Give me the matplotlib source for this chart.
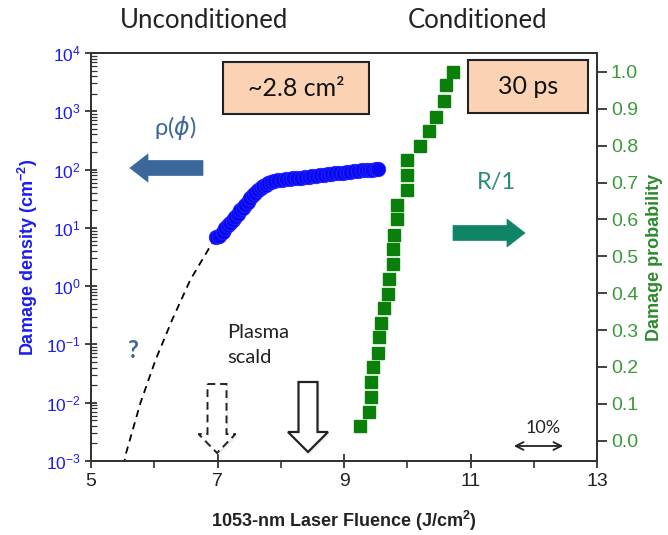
import matplotlib
matplotlib.use("Agg")
import matplotlib.pyplot as plt
from matplotlib.patches import Polygon, Rectangle
from matplotlib.ticker import FixedLocator, MultipleLocator, LogLocator, NullFormatter

plt.rcParams['font.family'] = ['Liberation Sans', 'DejaVu Sans']
plt.rcParams['mathtext.fontset'] = 'custom'
plt.rcParams['mathtext.rm'] = 'Liberation Sans'
plt.rcParams['mathtext.it'] = 'Liberation Sans:italic'
plt.rcParams['mathtext.bf'] = 'Liberation Sans:bold'

# unconditioned damage density (blue circles)
fluence_u = [6.98, 7.03, 7.08, 7.12, 7.16, 7.20, 7.24, 7.28, 7.32, 7.36, 7.40,
             7.44, 7.48, 7.52, 7.56, 7.60, 7.64, 7.68, 7.72, 7.76, 7.80, 7.85,
             7.90, 7.96, 8.02, 8.08, 8.14, 8.20, 8.26, 8.32, 8.38, 8.44, 8.50,
             8.56, 8.62, 8.68, 8.74, 8.80, 8.86, 8.92, 8.98, 9.04, 9.10, 9.16,
             9.22, 9.28, 9.34, 9.40, 9.45, 9.50, 9.54]
density_u = [7.0, 7.2, 8.5, 9.8, 11.0, 12.2, 13.5, 15.5, 17.5, 20, 22,
             25, 28, 32, 36, 40, 44, 48, 52, 55, 58, 61,
             63, 65, 67, 68, 70, 71, 72, 73, 75, 76, 78,
             79, 81, 82, 84, 85, 87, 88, 89, 91, 92, 94,
             95, 97, 98, 99, 100, 101, 102]

# extrapolation (dashed)
fluence_fit = [5.50, 5.54, 5.78, 6.02, 6.28, 6.57, 6.97, 7.25, 7.56]
density_fit = [5e-4, 1.2e-3, 9.8e-3, 5.4e-2, 0.26, 1.28, 6.9, 13.2, 27.5]

# conditioned damage probability (green squares)
fluence_c = [9.25, 9.39, 9.43, 9.43, 9.46, 9.54, 9.56, 9.59, 9.63, 9.69, 9.71,
             9.78, 9.78, 9.79, 9.84, 9.84, 9.99, 10.0, 10.0, 10.20, 10.34,
             10.45, 10.58, 10.61, 10.73]
prob_c = [0.039, 0.078, 0.118, 0.159, 0.199, 0.239, 0.281, 0.319, 0.36, 0.398,
          0.438, 0.48, 0.52, 0.558, 0.60, 0.64, 0.68, 0.721, 0.762, 0.80, 0.84,
          0.879, 0.922, 0.965, 1.0]

x_major = [5, 7, 9, 11, 13]
x_minor = [6, 8, 10, 12]

W, H = 668, 535


def fx(px):
    return px / W


def fy(py):
    return 1 - py / H


def pix(pts):
    return [(fx(a), fy(b)) for a, b in pts]


fig = plt.figure(figsize=(W / 100, H / 100), dpi=100)
ax = fig.add_axes([fx(91), fy(461), (597 - 91) / W, (461 - 53) / H])

blue = '#1c1cf0'
green_tk = '#3a9a3a'
steel = '#3b679b'
teal = '#108466'
spine_c = '#333333'

ax.plot(fluence_fit, density_fit, ls=(0, (4, 3)), color='black', lw=1.3, zorder=3)
ax.plot(fluence_u, density_u, 'o', ms=10.5, color='#0808f2', mec='#2a2aff', mew=0.5, zorder=4)

ax.set_yscale('log')
ax.set_ylim(1e-3, 1e4)
ax.set_xlim(5, 13)
ax.xaxis.set_major_locator(FixedLocator(x_major))
ax.xaxis.set_minor_locator(FixedLocator(x_minor))
ax.yaxis.set_major_locator(LogLocator(base=10, numticks=10))
ax.yaxis.set_minor_locator(LogLocator(base=10, subs=range(2, 10), numticks=100))
ax.yaxis.set_minor_formatter(NullFormatter())

ax.tick_params(axis='y', which='major', direction='inout', length=8, width=1.3,
               colors=spine_c, labelcolor=blue, labelsize=12.5)
ax.tick_params(axis='y', which='minor', direction='in', length=4, width=0.9, colors=spine_c)
ax.tick_params(axis='x', which='major', direction='inout', length=10, width=1.3,
               colors=spine_c, labelcolor='#222222', labelsize=14, pad=4)
ax.tick_params(axis='x', which='minor', direction='out', length=5, width=1.2, colors=spine_c)

for s in ax.spines.values():
    s.set_color(spine_c)
    s.set_linewidth(1.4)

ax.set_ylabel(r'Damage density (cm$^{\mathbf{-2}}$)', color=blue, fontweight='bold',
              fontsize=13, labelpad=4)
ax.set_xlabel(r'1053-nm Laser Fluence (J/cm$^{\mathbf{2}}$)', color='#222222',
              fontweight='bold', fontsize=13, labelpad=13)

ax2 = ax.twinx()
ax2.plot(fluence_c, prob_c, 's', ms=8, color='#0a800a', zorder=4)
ax2.set_ylim(-0.055, 1.0515)
ax2.yaxis.set_major_locator(MultipleLocator(0.1))
ax2.yaxis.set_major_formatter(plt.FuncFormatter(lambda v, p: f'{v:.1f}'))
ax2.tick_params(axis='y', direction='out', length=7, width=1.3, colors=spine_c,
                labelcolor=green_tk, labelsize=14, pad=3)
for s in ax2.spines.values():
    s.set_color(spine_c)
    s.set_linewidth(1.4)
ax2.set_ylabel('Damage probability', color='#2d8a2d', fontweight='bold',
               fontsize=13, labelpad=6)

# annotation font
afont = ['Lato', 'DejaVu Sans']

fig.text(fx(204), fy(20), 'Unconditioned', family=afont, fontsize=18.5,
         color='#222222', ha='center', va='center')
fig.text(fx(478), fy(20), 'Conditioned', family=afont, fontsize=18.5,
         color='#222222', ha='center', va='center')

# boxes
for (x0, y0, x1, y1), label in [((223, 62, 369, 114), '~2.8 cm²'),
                                ((468, 60, 588, 113), '30 ps')]:
    fig.patches.append(Rectangle((fx(x0), fy(y1)), (x1 - x0) / W, (y1 - y0) / H,
                                 transform=fig.transFigure, facecolor='#fbd3b4',
                                 edgecolor='#222222', lw=1.5, zorder=5))
    fig.text(fx((x0 + x1) / 2), fy((y0 + y1) / 2), label, family=afont, fontsize=18,
             color='#111111', ha='center', va='center', zorder=6)

# big arrows
left_arrow = [(203, 160.5), (148, 160.5), (148, 154), (130, 168), (148, 182),
              (148, 175.5), (203, 175.5)]
fig.patches.append(Polygon(pix(left_arrow), closed=True, transform=fig.transFigure,
                           facecolor=steel, edgecolor=steel, lw=0.5))
right_arrow = [(453, 225.5), (507, 225.5), (507, 219), (525, 233), (507, 247),
               (507, 240.5), (453, 240.5)]
fig.patches.append(Polygon(pix(right_arrow), closed=True, transform=fig.transFigure,
                           facecolor=teal, edgecolor=teal, lw=0.5))

fig.text(fx(175), fy(128), r'ρ($\phi$)', family=afont, math_fontfamily='dejavusans',
         fontsize=17, color=steel, ha='center', va='center')
fig.text(fx(496), fy(183), 'R/1', family=afont, fontsize=17, color='#2a8c78',
         ha='center', va='center')
fig.text(fx(133), fy(350), '?', family=afont, fontsize=17, fontweight='bold',
         color=steel, ha='center', va='center')
fig.text(fx(227), fy(345), 'Plasma\nscald', family=afont, fontsize=14.5,
         color='#222222', ha='left', va='center', linespacing=1.6)

# hollow down arrows
def down_arrow(cx, top, head_y, tip, body_half, head_half):
    return [(cx - body_half, top), (cx + body_half, top), (cx + body_half, head_y),
            (cx + head_half, head_y), (cx, tip), (cx - head_half, head_y),
            (cx - body_half, head_y)]


for dx in (0,):
    pass
fig.patches.append(Polygon(pix(down_arrow(219, 386, 436, 455, 9.5, 18.5)), closed=True,
                           transform=fig.transFigure, facecolor='#dddddd',
                           edgecolor='none', alpha=0.5))
fig.patches.append(Polygon(pix(down_arrow(217, 384, 434, 453, 9.5, 18.5)), closed=True,
                           transform=fig.transFigure, facecolor='white',
                           edgecolor='#222222', lw=1.4, ls=(0, (4, 2.5))))
fig.patches.append(Polygon(pix(down_arrow(310, 384, 434, 454, 9.5, 20)), closed=True,
                           transform=fig.transFigure, facecolor='#dddddd',
                           edgecolor='none', alpha=0.5))
fig.patches.append(Polygon(pix(down_arrow(308, 382, 432, 452, 9.5, 20)), closed=True,
                           transform=fig.transFigure, facecolor='white',
                           edgecolor='#222222', lw=1.6))

# 10% scale arrow
fig.text(fx(543), fy(428), '10%', family=afont, fontsize=13, color='#222222',
         ha='center', va='center')
ax.annotate('', xy=(fx(511), fy(446)), xytext=(fx(566), fy(446)),
            xycoords='figure fraction', textcoords='figure fraction',
            arrowprops=dict(arrowstyle='<->', color='#222222', lw=1.3,
                            mutation_scale=14))

fig.savefig('out.png', dpi=100)
